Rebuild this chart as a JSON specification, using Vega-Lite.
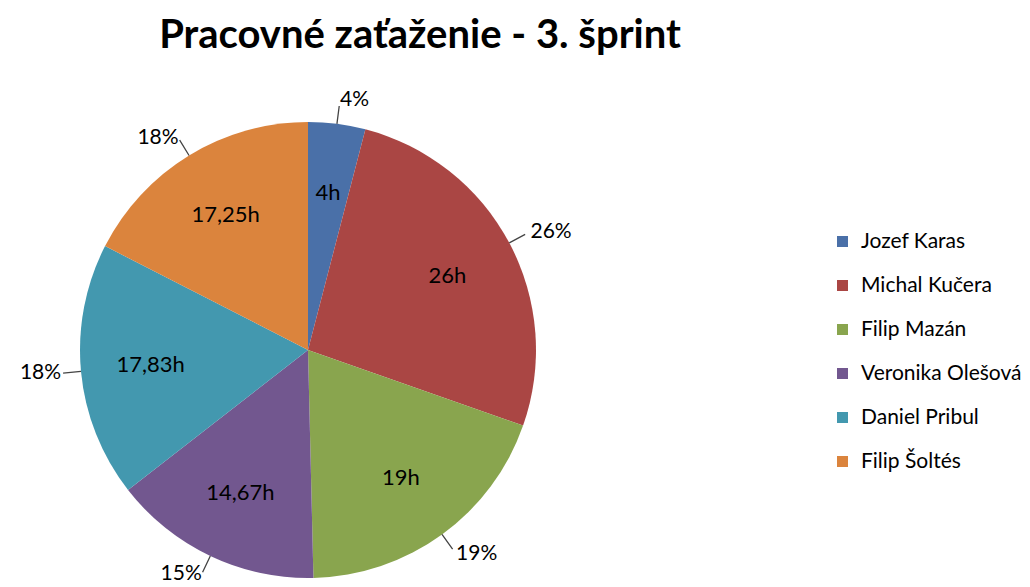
{
  "$schema": "https://vega.github.io/schema/vega-lite/v6.json",
  "width": 616,
  "height": 470,
  "autosize": {"type": "none"},
  "padding": {"left": 0, "top": 115, "right": 414, "bottom": 2},
  "background": "white",
  "title": {
    "text": "Pracovné zaťaženie - 3. šprint",
    "frame": "group",
    "font": "Lato",
    "fontSize": 40,
    "fontWeight": "bold",
    "color": "#000000",
    "anchor": "middle",
    "dx": 112,
    "offset": 33
  },
  "data": {
    "values": [
      {"n": 1, "name": "Jozef Karas", "hours": 4, "label": "4h", "pct": "4%"},
      {"n": 2, "name": "Michal Kučera", "hours": 26, "label": "26h", "pct": "26%"},
      {"n": 3, "name": "Filip Mazán", "hours": 19, "label": "19h", "pct": "19%"},
      {"n": 4, "name": "Veronika Olešová", "hours": 14.67, "label": "14,67h", "pct": "15%"},
      {"n": 5, "name": "Daniel Pribul", "hours": 17.83, "label": "17,83h", "pct": "18%"},
      {"n": 6, "name": "Filip Šoltés", "hours": 17.25, "label": "17,25h", "pct": "18%"}
    ]
  },
  "encoding": {
    "theta": {"field": "hours", "type": "quantitative", "stack": true},
    "order": {"field": "n", "type": "quantitative"}
  },
  "layer": [
    {
      "mark": {"type": "arc", "radius": 228},
      "encoding": {
        "color": {
          "field": "name",
          "type": "nominal",
          "sort": null,
          "scale": {
            "domain": ["Jozef Karas", "Michal Kučera", "Filip Mazán", "Veronika Olešová", "Daniel Pribul", "Filip Šoltés"],
            "range": ["#4A70A8", "#AA4644", "#89A54E", "#72578F", "#4398AF", "#DB843D"]
          },
          "legend": {
            "title": null,
            "orient": "none",
            "legendX": 832,
            "legendY": 116,
            "padding": 0,
            "symbolType": "square",
            "symbolSize": 121,
            "symbolStrokeWidth": 0,
            "labelFont": "Lato",
            "labelFontSize": 21,
            "labelColor": "#000000",
            "labelOffset": 8,
            "rowPadding": 22,
            "labelLimit": 300
          }
        }
      }
    },
    {
      "mark": {"type": "arc", "radius": 246, "radius2": 228, "padAngle": 3, "fill": "transparent", "stroke": "#444444", "strokeWidth": 1.3},
      "encoding": {"detail": {"field": "name", "type": "nominal"}}
    },
    {
      "mark": {"type": "text", "radius": 158, "font": "Lato", "fontSize": 22, "color": "#000000", "align": "center", "baseline": "middle"},
      "encoding": {
        "detail": {"field": "name", "type": "nominal"},
        "text": {"field": "label", "type": "nominal"}
      }
    },
    {
      "mark": {"type": "text", "radius": 252, "font": "Lato", "fontSize": 21, "color": "#000000", "align": "left", "baseline": "middle"},
      "encoding": {
        "detail": {"field": "name", "type": "nominal"},
        "text": {"condition": {"test": "datum.n <= 3", "field": "pct"}, "value": ""}
      }
    },
    {
      "mark": {"type": "text", "radius": 248, "font": "Lato", "fontSize": 21, "color": "#000000", "align": "right", "baseline": "middle"},
      "encoding": {
        "detail": {"field": "name", "type": "nominal"},
        "text": {"condition": {"test": "datum.n > 3", "field": "pct"}, "value": ""}
      }
    }
  ],
  "config": {"view": {"stroke": null}}
}
